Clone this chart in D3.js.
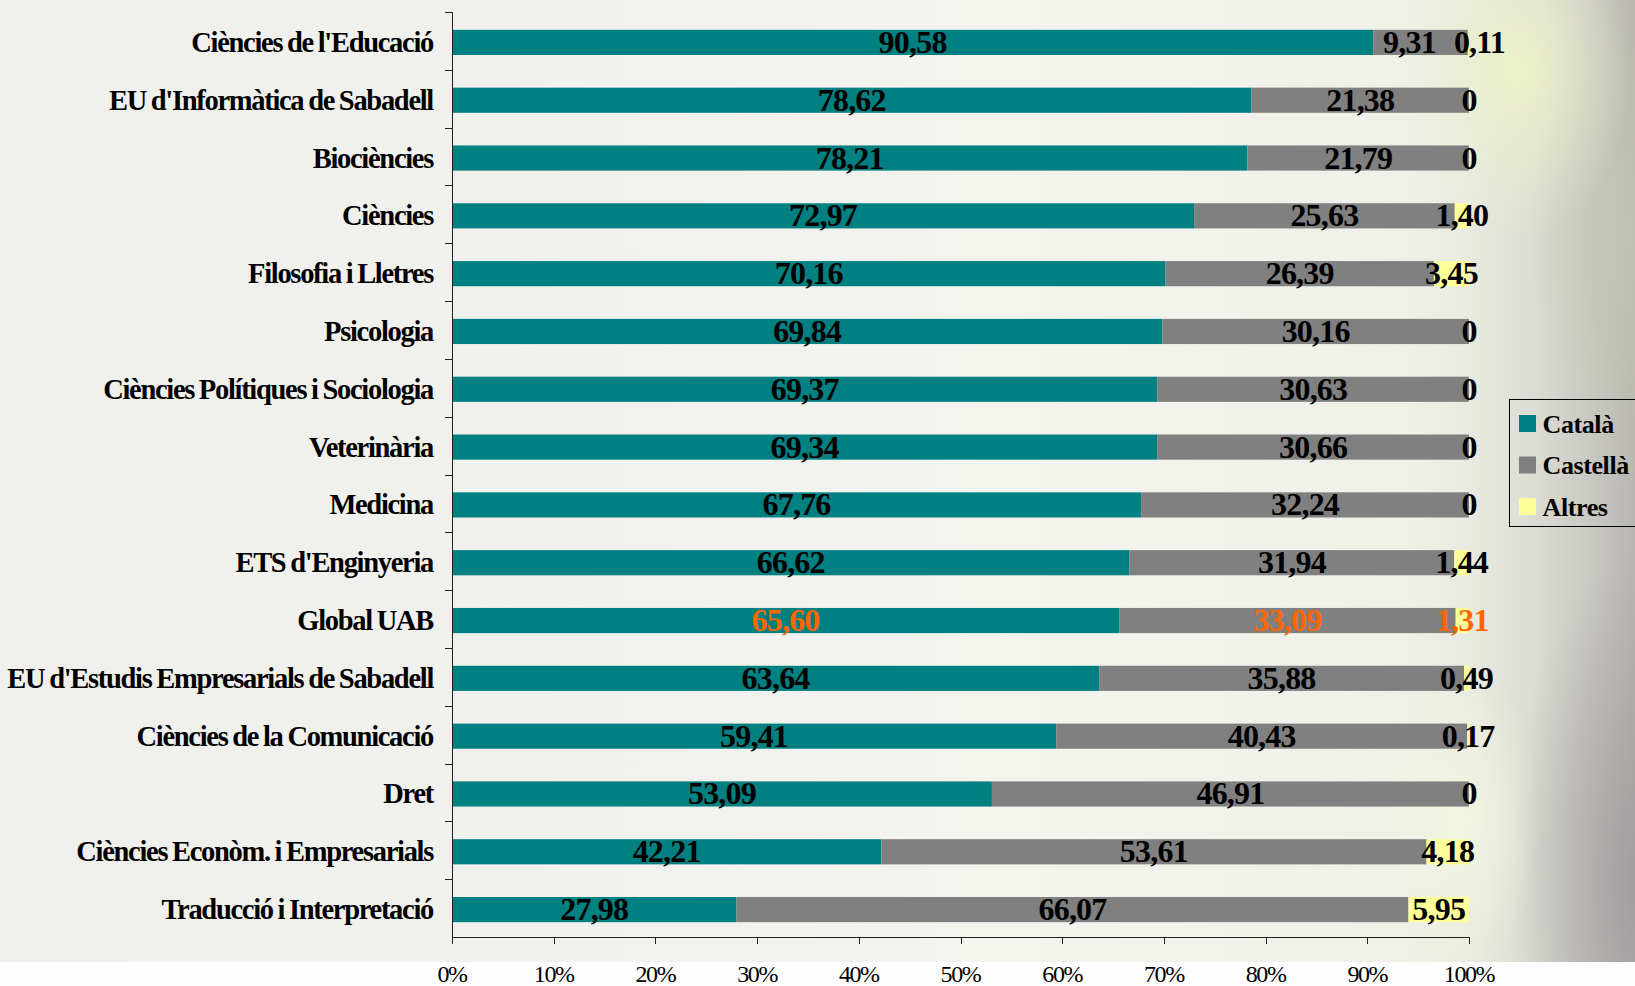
<!DOCTYPE html>
<html>
<head>
<meta charset="utf-8">
<script src="https://cdn.jsdelivr.net/npm/d3@7"></script>
<style>
    html, body { margin: 0; padding: 0; background: #ffffff; overflow: hidden; }
    .chart { display: block; }
    .chart text { font-family: "Liberation Serif", "Times New Roman", serif; }
</style>
</head>
<body>
<svg class="chart"></svg>
<script>
var categories = [
    "Ciències de l'Educació",
    "EU d'Informàtica de Sabadell",
    "Biociències",
    "Ciències",
    "Filosofia i Lletres",
    "Psicologia",
    "Ciències Polítiques i Sociologia",
    "Veterinària",
    "Medicina",
    "ETS d'Enginyeria",
    "Global UAB",
    "EU d'Estudis Empresarials de Sabadell",
    "Ciències de la Comunicació",
    "Dret",
    "Ciències Econòm. i Empresarials",
    "Traducció i Interpretació"
];

var catala   = [90.58, 78.62, 78.21, 72.97, 70.16, 69.84, 69.37, 69.34, 67.76, 66.62, 65.60, 63.64, 59.41, 53.09, 42.21, 27.98];
var castella = [9.31, 21.38, 21.79, 25.63, 26.39, 30.16, 30.63, 30.66, 32.24, 31.94, 33.09, 35.88, 40.43, 46.91, 53.61, 66.07];
var altres   = [0.11, 0, 0, 1.40, 3.45, 0, 0, 0, 0, 1.44, 1.31, 0.49, 0.17, 0, 4.18, 5.95];

var seriesNames = ['Català', 'Castellà', 'Altres'];
var seriesColors = ['#008080', '#808080', '#ffff99'];
var xTicks = [0, 0.1, 0.2, 0.3, 0.4, 0.5, 0.6, 0.7, 0.8, 0.9, 1];
var highlight = 'Global UAB';

var config = {
    width: 1635,
    height: 986,
    margin: {left: 452, top: 12, right: 166, bottom: 49}
};
config.chartWidth = config.width - config.margin.left - config.margin.right;
config.chartHeight = config.height - config.margin.top - config.margin.bottom;

var chart = d3.select('.chart')
    .attr('width', config.width)
    .attr('height', config.height);

// background, a soft photo-like wash
var defs = chart.append('defs');

var bgGrad = defs.append('linearGradient').attr('id', 'bg').attr('x1', 0).attr('x2', 1).attr('y1', 0).attr('y2', 0);
[['0', '#efefec'], ['0.45', '#f1f1ee'], ['0.6', '#f3f4ee'], ['0.86', '#eff0e8'], ['0.9', '#e8eae0'],
 ['0.94', '#dadbd3'], ['0.975', '#c8c7c2'], ['1', '#b8b6b2']].forEach(function(s){
    bgGrad.append('stop').attr('offset', s[0]).attr('stop-color', s[1]);
});

var radial = function(id, color, opacity){
    var g = defs.append('radialGradient').attr('id', id);
    g.append('stop').attr('offset', '0').attr('stop-color', color).attr('stop-opacity', opacity);
    g.append('stop').attr('offset', '1').attr('stop-color', color).attr('stop-opacity', 0);
};
radial('glow', '#edf2c8', 0.95);
radial('glow2', '#f3f6df', 0.9);
radial('darkLow', '#9c979a', 0.8);
radial('greenHigh', '#c3c8b0', 0.7);

var bg = chart.append('g').attr('class', 'background');
bg.append('rect').attr('width', config.width).attr('height', 962).attr('fill', 'url(#bg)');
bg.append('ellipse').attr('cx', 1640).attr('cy', 880).attr('rx', 130).attr('ry', 330).attr('fill', 'url(#darkLow)');
bg.append('ellipse').attr('cx', 1640).attr('cy', 230).attr('rx', 110).attr('ry', 260).attr('fill', 'url(#greenHigh)');
bg.append('ellipse').attr('cx', 1520).attr('cy', 70).attr('rx', 110).attr('ry', 170).attr('fill', 'url(#glow)');
bg.append('ellipse').attr('cx', 1460).attr('cy', 820).attr('rx', 80).attr('ry', 160).attr('fill', 'url(#glow2)');
bg.append('rect').attr('y', 962).attr('width', config.width).attr('height', 24).attr('fill', '#fdfdfd');

var data = categories.map(function(c, i){
    return {category: c, values: [catala[i], castella[i], altres[i]]};
});

var scaleX = d3.scaleLinear()
    .domain([0, 1])
    .range([0, config.chartWidth]);

var scaleY = d3.scaleBand()
    .domain(categories)
    .range([0, config.chartHeight])
    .paddingInner(0.565)
    .paddingOuter(0.2825);

var panel = chart.append('g')
    .attr('class', 'panel')
    .attr('transform', 'translate(' + [config.margin.left, config.margin.top] + ')');

// stacked layout, as shares of each row total
var layout = seriesNames.map(function(name, s){
    return data.map(function(d, i){
        var total = d3.sum(d.values);
        var before = d3.sum(d.values.slice(0, s));
        return {
            category: d.category,
            index: i,
            value: d.values[s],
            x0: before / total,
            x1: (before + d.values[s]) / total,
            layerIndex: s
        };
    });
});

var layers = panel.selectAll('.layer')
    .data(layout)
    .enter().append('g')
    .attr('class', 'layer')
    .attr('fill', function(d, i){ return seriesColors[i]; });

layers.selectAll('.shape')
    .data(function(d){ return d; })
    .enter().append('rect')
    .attr('class', 'shape')
    .attr('x', function(d){ return scaleX(d.x0); })
    .attr('y', function(d){ return scaleY(d.category) + 1.5; })
    .attr('width', function(d){ return scaleX(d.x1) - scaleX(d.x0); })
    .attr('height', scaleY.bandwidth());

// axes
var tickSize = 7;
var axisColor = '#222';

var axisY = panel.append('g').attr('class', 'axis-y');
axisY.append('line')
    .attr('x1', 0.5).attr('x2', 0.5)
    .attr('y1', 0).attr('y2', config.chartHeight)
    .attr('stroke', axisColor);
axisY.selectAll('.tick')
    .data(d3.range(categories.length))
    .enter().append('line')
    .attr('class', 'tick')
    .attr('x1', -tickSize).attr('x2', 0.5)
    .attr('y1', function(d){ return Math.round(d * scaleY.step()) + 0.5; })
    .attr('y2', function(d){ return Math.round(d * scaleY.step()) + 0.5; })
    .attr('stroke', axisColor);

var axisX = panel.append('g')
    .attr('class', 'axis-x')
    .attr('transform', 'translate(0,' + config.chartHeight + ')');
axisX.append('line')
    .attr('x1', 0).attr('x2', config.chartWidth)
    .attr('y1', 0.5).attr('y2', 0.5)
    .attr('stroke', axisColor);
axisX.selectAll('.tick')
    .data(xTicks)
    .enter().append('line')
    .attr('class', 'tick')
    .attr('x1', function(d){ return Math.round(scaleX(d)) + 0.5; })
    .attr('x2', function(d){ return Math.round(scaleX(d)) + 0.5; })
    .attr('y1', 0).attr('y2', tickSize)
    .attr('stroke', axisColor);
axisX.selectAll('.label')
    .data(xTicks)
    .enter().append('text')
    .attr('class', 'label')
    .attr('x', function(d){ return scaleX(d); })
    .attr('y', 45)
    .attr('text-anchor', 'middle')
    .style('font-size', '24px')
    .style('letter-spacing', '-1.4px')
    .style('fill', '#000')
    .text(function(d){ return Math.round(d * 100) + '%'; });

// category labels
panel.append('g').attr('class', 'labels-y')
    .selectAll('text')
    .data(categories)
    .enter().append('text')
    .attr('x', -19)
    .attr('y', function(d){ return scaleY(d) + scaleY.bandwidth() / 2 + 11; })
    .attr('text-anchor', 'end')
    .style('font-size', '28.5px')
    .style('font-weight', 'bold')
    .style('letter-spacing', '-1.3px')
    .style('word-spacing', '-1px')
    .style('fill', '#000')
    .text(function(d){ return d; });

// value labels, centred in each segment
var fmt = function(v){ return v === 0 ? '0' : v.toFixed(2).replace('.', ','); };

var values = layers.selectAll('.value')
    .data(function(d){ return d; })
    .enter().append('text')
    .attr('class', 'value')
    .attr('x', function(d){ return scaleX((d.x0 + d.x1) / 2); })
    .attr('y', function(d){ return scaleY(d.category) + scaleY.bandwidth() / 2 + 12; })
    .attr('text-anchor', 'middle')
    .style('font-size', '32px')
    .style('font-weight', 'bold')
    .style('letter-spacing', '-0.8px')
    .style('fill', function(d){ return d.category === highlight ? '#ff6600' : '#000'; })
    .text(function(d){ return fmt(d.value); });

// push apart labels that collide inside a row
var labelGap = 18;
d3.range(categories.length).forEach(function(row){
    var nodes = values.filter(function(d){ return d.index === row; }).nodes();
    for(var k = 1; k < nodes.length; k++){
        var a = nodes[k - 1], b = nodes[k];
        var ba = a.getBBox(), bb = b.getBBox();
        var overlap = (ba.x + ba.width + labelGap) - bb.x;
        if(overlap > 0 && a.textContent !== '0' && b.textContent !== '0'){
            a.setAttribute('x', +a.getAttribute('x') - overlap / 2);
            b.setAttribute('x', +b.getAttribute('x') + overlap / 2);
        }
    }
});

// legend
var legend = chart.append('g')
    .attr('class', 'legend')
    .attr('transform', 'translate(1509.5,399.5)');
legend.append('rect')
    .attr('width', 150).attr('height', 127)
    .attr('fill', 'none')
    .attr('stroke', '#000');
var items = legend.selectAll('.item')
    .data(seriesNames)
    .enter().append('g')
    .attr('class', 'item')
    .attr('transform', function(d, i){ return 'translate(0,' + (16 + i * 41.5) + ')'; });
items.append('rect')
    .attr('x', 9.5).attr('y', -0.5)
    .attr('width', 17).attr('height', 17)
    .attr('fill', function(d, i){ return seriesColors[i]; });
items.append('text')
    .attr('x', 33)
    .attr('y', 17)
    .style('font-size', '26px')
    .style('font-weight', 'bold')
    .style('letter-spacing', '-0.4px')
    .style('fill', '#000')
    .text(function(d){ return d; });
</script>
</body>
</html>
